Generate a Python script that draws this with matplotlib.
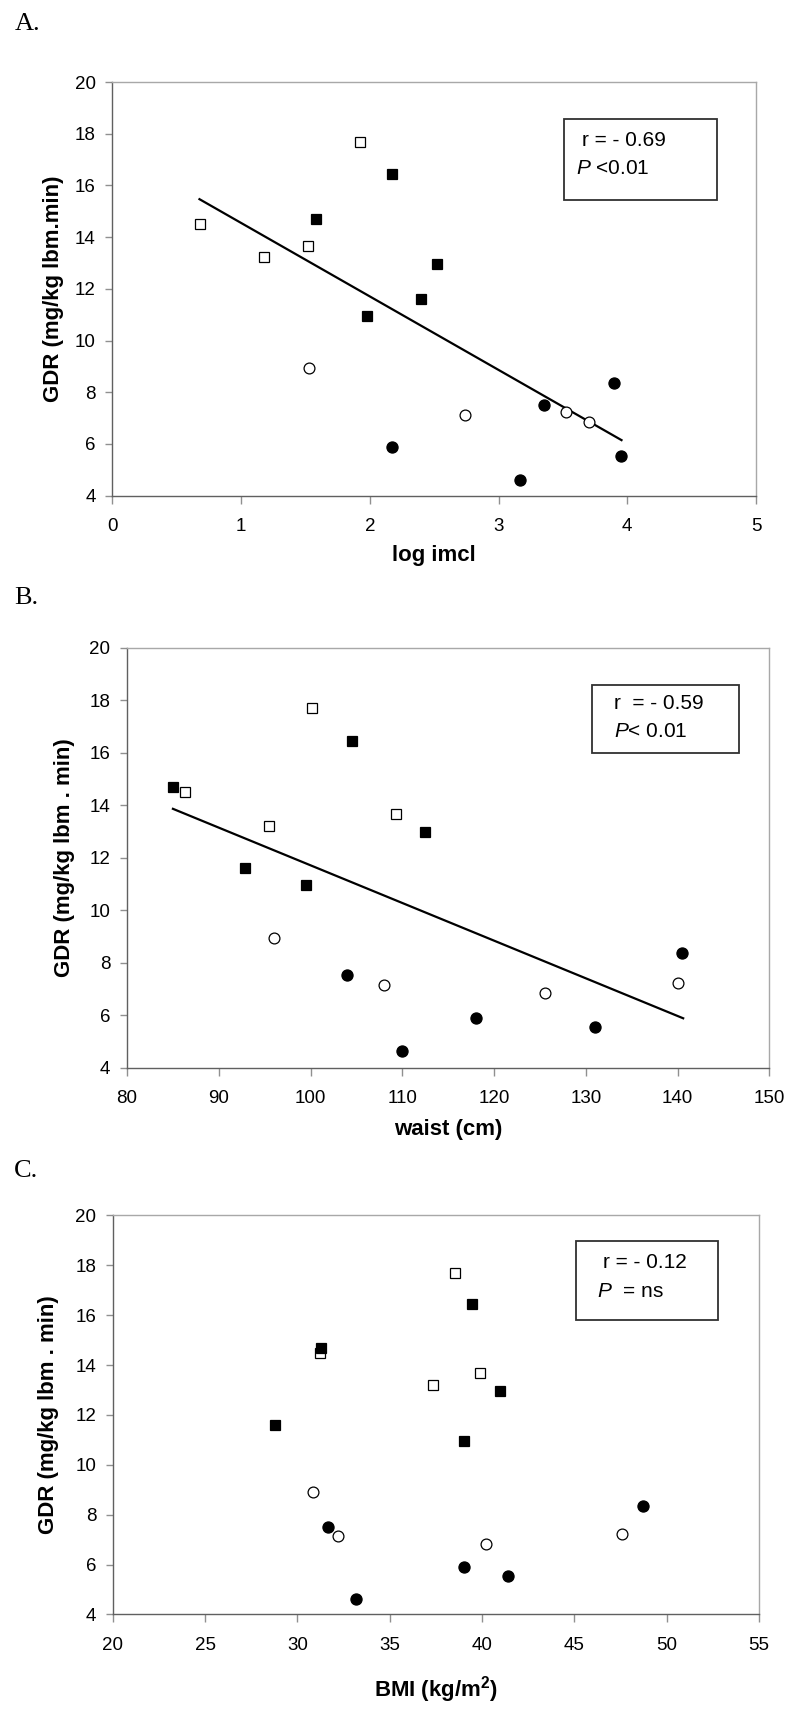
import matplotlib
matplotlib.use('Agg')
import matplotlib.pyplot as plt
from matplotlib.patches import Rectangle

plt.rcParams['font.family'] = ['Liberation Sans', 'DejaVu Sans']
plt.rcParams['mathtext.fontset'] = 'custom'
plt.rcParams['mathtext.rm'] = 'Liberation Sans'
plt.rcParams['mathtext.it'] = 'Liberation Sans:italic'
plt.rcParams['mathtext.bf'] = 'Liberation Sans:bold'

# GDR values per group (shared across panels)
gdr_open_sq = [14.5, 13.22, 13.67, 17.7]
gdr_fill_sq = [14.7, 16.43, 10.94, 11.59, 12.97]
gdr_open_ci = [8.93, 7.14, 7.23, 6.84]
gdr_fill_ci = [8.35, 7.51, 5.9, 4.62, 5.54]

# panel A: log imcl
imcl_open_sq = [0.68, 1.18, 1.52, 1.92]
imcl_fill_sq = [1.58, 2.17, 1.98, 2.40, 2.52]
imcl_open_ci = [1.53, 2.74, 3.52, 3.70]
imcl_fill_ci = [3.90, 3.35, 2.17, 3.17, 3.95]
imcl_fit_x = [0.676, 3.955]
imcl_fit_y = [15.47, 6.15]

# panel B: waist
waist_open_sq = [86.3, 95.5, 109.3, 100.2]
waist_fill_sq = [85.0, 104.5, 99.5, 92.8, 112.5]
waist_open_ci = [96.0, 108.0, 140.0, 125.5]
waist_fill_ci = [140.5, 104.0, 118.0, 110.0, 131.0]
waist_fit_x = [85.0, 140.6]
waist_fit_y = [13.86, 5.88]

# panel C: BMI
bmi_open_sq = [31.24, 37.32, 39.89, 38.56]
bmi_fill_sq = [31.27, 39.48, 39.0, 28.76, 40.97]
bmi_open_ci = [30.83, 32.18, 47.6, 40.22]
bmi_fill_ci = [48.73, 31.63, 39.0, 33.18, 41.41]

fig = plt.figure(figsize=(8, 17.17), dpi=100)


def panel(rect, xs, xlim, xticks, xlabel, ylabel, xlab_y, ylab_x, box, lines, fit=None):
    ax = fig.add_axes(rect)
    if fit is not None:
        ax.plot(fit[0], fit[1], color='black', lw=1.6, zorder=2)
    ax.plot(xs[0], gdr_open_sq, ls='none', marker='s', ms=7.5, mfc='white', mec='black', mew=0.9, zorder=3)
    ax.plot(xs[1], gdr_fill_sq, ls='none', marker='s', ms=7.5, mfc='black', mec='black', mew=0.9, zorder=3)
    ax.plot(xs[2], gdr_open_ci, ls='none', marker='o', ms=7.8, mfc='white', mec='black', mew=0.9, zorder=3)
    ax.plot(xs[3], gdr_fill_ci, ls='none', marker='o', ms=8.0, mfc='black', mec='black', mew=0.9, zorder=3)
    ax.set_xlim(xlim)
    ax.set_ylim(4, 20)
    ax.set_xticks(xticks)
    ax.set_yticks(range(4, 21, 2))
    ax.tick_params(axis='both', labelsize=13.5, color='#909090', width=1)
    ax.tick_params(axis='y', length=5, pad=7)
    ax.tick_params(axis='x', length=6, pad=10)
    for s in ['left', 'bottom']:
        ax.spines[s].set_color('#606060')
        ax.spines[s].set_linewidth(1.0)
    for s in ['top', 'right']:
        ax.spines[s].set_color('#a8a8a8')
        ax.spines[s].set_linewidth(1.0)
    ax.set_xlabel(xlabel, fontsize=16, fontweight='bold', va='center')
    ax.xaxis.set_label_coords(0.5, xlab_y)
    ax.set_ylabel(ylabel, fontsize=16, fontweight='bold', va='center')
    ax.yaxis.set_label_coords(ylab_x, 0.5)
    ax.add_patch(Rectangle((box[0], box[1]), box[2] - box[0], box[3] - box[1],
                           transform=ax.transAxes, fill=False, ec='#303030', lw=1.3, zorder=4))
    for (tx, ty, t) in lines:
        ax.text(tx, ty, t, transform=ax.transAxes, fontsize=15, va='center', ha='left')
    return ax


panel([0.1406, 0.7113, 0.8044, 0.2409],
      [imcl_open_sq, imcl_fill_sq, imcl_open_ci, imcl_fill_ci],
      (0, 5), range(0, 6), 'log imcl', 'GDR (mg/kg lbm.min)', -0.145, -0.091,
      (0.702, 0.715, 0.940, 0.910),
      [(0.729, 0.859, 'r = - 0.69'), (0.720, 0.792, r'$\mathit{P}$ <0.01')],
      fit=(imcl_fit_x, imcl_fit_y))

panel([0.1588, 0.3782, 0.803, 0.2446],
      [waist_open_sq, waist_fill_sq, waist_open_ci, waist_fill_ci],
      (80, 150), range(80, 151, 10), 'waist (cm)', 'GDR (mg/kg lbm . min)', -0.148, -0.098,
      (0.724, 0.749, 0.952, 0.912),
      [(0.758, 0.866, 'r  = - 0.59'), (0.758, 0.800, r'$\mathit{P}$< 0.01')],
      fit=(waist_fit_x, waist_fit_y))

panel([0.141, 0.0597, 0.8078, 0.2324],
      [bmi_open_sq, bmi_fill_sq, bmi_open_ci, bmi_fill_ci],
      (20, 55), range(20, 56, 5), r'BMI (kg/m$^\mathbf{2}$)', 'GDR (mg/kg lbm . min)', -0.188, -0.0995,
      (0.717, 0.738, 0.937, 0.936),
      [(0.759, 0.882, 'r = - 0.12'), (0.750, 0.810, r'$\mathit{P}$  = ns')])

for x, y, t in [(15, 30, 'A.'), (14, 604, 'B.'), (14, 1177, 'C.')]:
    fig.text(x / 800, 1 - y / 1717, t, fontsize=19, family='Liberation Serif', va='baseline', ha='left')

fig.savefig('out.png', dpi=100)
